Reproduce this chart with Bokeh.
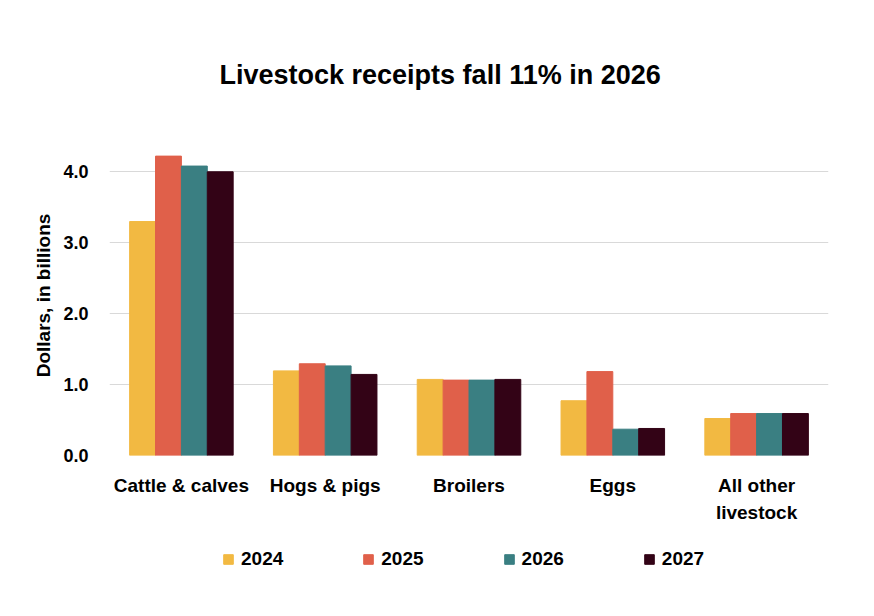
from bokeh.plotting import figure
from bokeh.layouts import column
from bokeh.models import ColumnDataSource, FactorRange, FixedTicker, Legend, LegendItem, NumeralTickFormatter, Range1d
from bokeh.transform import dodge
from bokeh.embed import file_html
from bokeh.resources import INLINE

categories = ["Cattle & calves", "Hogs & pigs", "Broilers", "Eggs", "All other\nlivestock"]
years = ["2024", "2025", "2026", "2027"]
v2024 = [3.29, 1.19, 1.07, 0.77, 0.52]
v2025 = [4.21, 1.29, 1.06, 1.18, 0.59]
v2026 = [4.07, 1.26, 1.06, 0.37, 0.59]
v2027 = [3.99, 1.14, 1.07, 0.38, 0.59]
y_ticks = [0, 1, 2, 3, 4]

colors = ["#F2B942", "#E0604A", "#3A7F82", "#330316"]
FONT = "Liberation Sans"

src = ColumnDataSource(dict(cat=categories, v2024=v2024, v2025=v2025, v2026=v2026, v2027=v2027))

p = figure(x_range=FactorRange(*categories, range_padding=0), y_range=(0, 4.5),
           width=858, height=540, output_backend="svg", toolbar_location=None,
           min_border_left=109, min_border_right=30, min_border_top=135, min_border_bottom=85)

p.title.text = "Livestock receipts fall 11% in 2026"
p.title.text_font = FONT
p.title.text_font_size = "27px"
p.title.text_font_style = "bold"
p.title.text_color = "#000000"
p.title.align = "left"
p.title.offset = 110
p.title.standoff = 92

offsets = [-0.27, -0.09, 0.09, 0.27]
cols = ["v2024", "v2025", "v2026", "v2027"]
for yr, col, off, c in zip(years, cols, offsets, colors):
    p.vbar(x=dodge("cat", off, range=p.x_range), top=col, width=0.18, source=src,
           fill_color=c, line_color=c)

p.outline_line_color = None
p.xgrid.grid_line_color = None
p.ygrid.grid_line_color = "#d9d9d9"
p.ygrid.grid_line_width = 1.2
p.ygrid.ticker = FixedTicker(ticks=y_ticks)

p.yaxis.ticker = FixedTicker(ticks=y_ticks)
p.yaxis.formatter = NumeralTickFormatter(format="0.0")
p.yaxis.axis_label = "Dollars, in billions"
p.yaxis.axis_label_text_font = FONT
p.yaxis.axis_label_text_font_size = "19px"
p.yaxis.axis_label_text_font_style = "bold"
p.yaxis.axis_label_text_color = "#000000"
p.yaxis.axis_label_standoff = 6
p.yaxis.major_label_standoff = 21

for ax in (p.xaxis, p.yaxis):
    ax.axis_line_color = None
    ax.major_tick_line_color = None
    ax.minor_tick_line_color = None
    ax.major_tick_out = 0
    ax.major_tick_in = 0
    ax.major_label_text_font = FONT
    ax.major_label_text_font_style = "bold"
    ax.major_label_text_color = "#000000"

p.yaxis.major_label_text_font_size = "18px"
p.xaxis.major_label_text_font_size = "19px"
p.xaxis.major_label_standoff = 19
p.xaxis.major_label_text_line_height = 1.3

# legend strip below the chart
lg = figure(width=858, height=60, output_backend="svg", toolbar_location=None,
            x_range=Range1d(0, 1), y_range=Range1d(0, 1),
            min_border_left=0, min_border_right=0, min_border_top=0, min_border_bottom=0)
lg.axis.visible = False
lg.grid.grid_line_color = None
lg.outline_line_color = None
items = []
for yr, c in zip(years, colors):
    r = lg.vbar(x=[-5], top=[-5], bottom=[-6], width=0.1, fill_color=c, line_color=c)
    items.append(LegendItem(label=yr, renderers=[r]))
legend = Legend(items=items, orientation="horizontal", location=(113, 30),
                glyph_width=12, glyph_height=12, label_standoff=7, spacing=79,
                label_text_font=FONT, label_text_font_size="19px", label_text_font_style="bold",
                label_text_color="#000000", border_line_color=None, background_fill_alpha=0,
                margin=0, padding=0)
lg.add_layout(legend, "center")

layout = column(p, lg, spacing=0)
open("out.html", "w").write(file_html(layout, INLINE))
